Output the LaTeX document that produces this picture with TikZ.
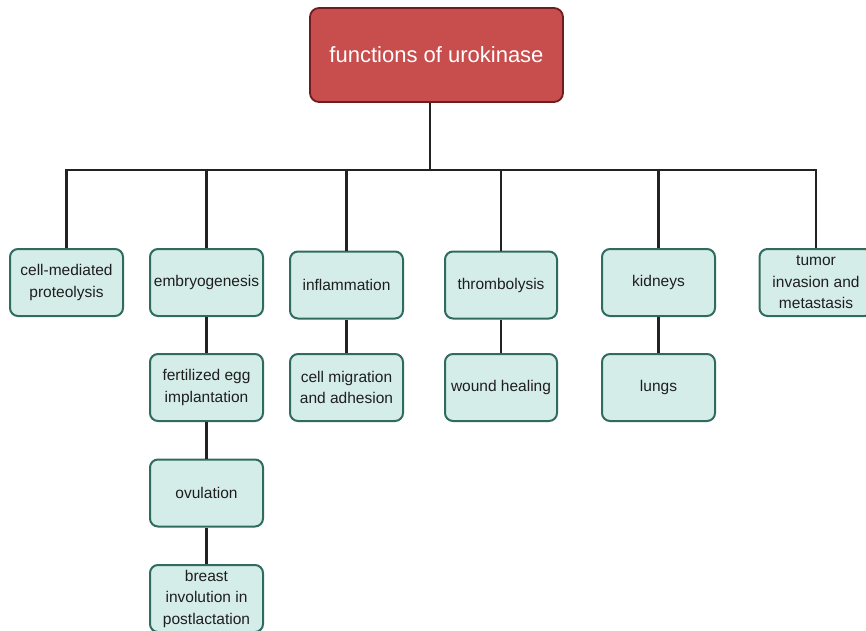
\documentclass[tikz,border=0pt]{standalone}
\usepackage{fontspec}
\setmainfont{Liberation Sans}
\definecolor{rootfill}{HTML}{C84D4D}
\definecolor{rootdraw}{HTML}{6E1E1E}
\definecolor{boxfill}{HTML}{D5EDE9}
\definecolor{boxdraw}{HTML}{2F6B5E}
\definecolor{linecol}{HTML}{222222}
\definecolor{txtcol}{HTML}{1E1E1E}
\tikzset{
  rootbox/.style={draw=rootdraw, fill=rootfill, line width=1.8pt, rounded corners=9pt,
    minimum width=253pt, minimum height=94pt, inner sep=0pt, text=white,
    font=\fontsize{22}{26}\selectfont},
  leaf/.style={draw=boxdraw, fill=boxfill, line width=2pt, rounded corners=8pt,
    minimum width=113pt, minimum height=67pt, inner sep=0pt, text=txtcol, align=center,
    font=\fontsize{15.5}{21.5}\selectfont},
  conn/.style={draw=linecol, line width=2.8pt}
}
\begin{document}
\begin{tikzpicture}[x=1pt,y=-1pt]
\useasboundingbox (0,0) rectangle (866,630);
\node[rootbox] (root) at (436.5,55) {functions of urokinase};
\coordinate (bus) at (430,170);
\node[leaf] (c1) at (66.5,282.5) {cell-mediated\\proteolysis};
\node[leaf] (c2) at (206.5,282.5) {embryogenesis};
\node[leaf] (c3) at (346.5,285) {inflammation};
\node[leaf, minimum width=112pt] (c4) at (501,285) {thrombolysis};
\node[leaf] (c5) at (658.5,282.5) {kidneys};
\node[leaf] (c6) at (816,282.5) {tumor\\invasion and\\metastasis};
\node[leaf] (d2) at (206.5,387.5) {fertilized egg\\implantation};
\node[leaf] (d3) at (346.5,387.5) {cell migration\\and adhesion};
\node[leaf, minimum width=112pt] (d4) at (501,387.5) {wound healing};
\node[leaf] (d5) at (658.5,387.5) {lungs};
\node[leaf] (e2) at (206.5,493) {ovulation};
\node[leaf] (f2) at (206.5,598.5) {breast\\involution in\\postlactation};
\draw[conn] (root.south -| bus) -- (bus);
\draw[conn] (c1.north) -- (c1.north |- bus) -- (c6.north |- bus) -- (c6.north);
\foreach \c in {c2,c3,c4,c5} \draw[conn] (\c.north) -- (\c.north |- bus);
\draw[conn] (c2) -- (d2);
\draw[conn] (c3) -- (d3);
\draw[conn] (c4) -- (d4);
\draw[conn] (c5) -- (d5);
\draw[conn] (d2) -- (e2);
\draw[conn] (e2) -- (f2);
\end{tikzpicture}
\end{document}
